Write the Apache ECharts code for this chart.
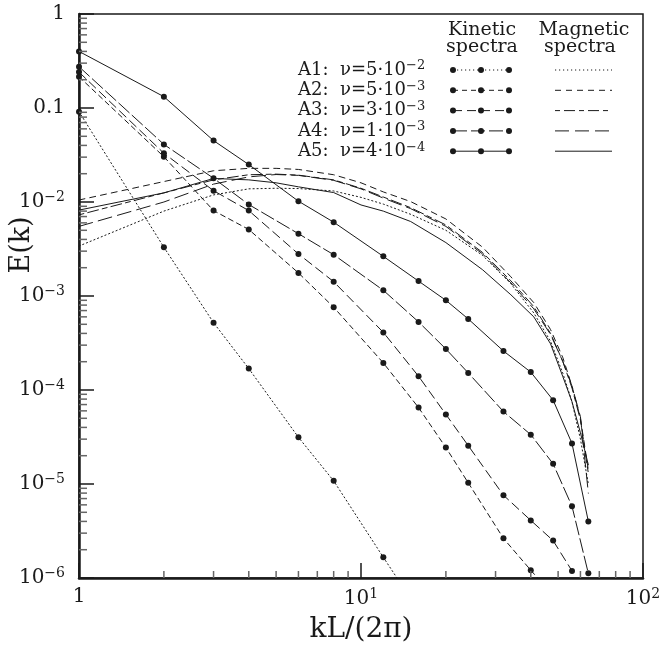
<!DOCTYPE html>
<html>
<head>
<meta charset="utf-8">
<script src="https://cdn.jsdelivr.net/npm/echarts@6/dist/echarts.min.js"></script>
<style>
html,body{margin:0;padding:0;background:#fff;}
#chart{width:662px;height:653px;}
</style>
</head>
<body>
<div id="chart"></div>
<script>
// ---------- data ----------
const kKinetic = [1, 2, 3, 4, 6, 8, 12, 16, 20, 24, 32, 40, 48, 56, 64];
const kinA1 = [0.0914, 0.0033, 5.2e-4, 1.69e-4, 3.14e-5, 1.08e-5, 1.66e-6, 4.5e-7];
const kinA2 = [0.215, 0.0303, 0.0081, 0.0051, 0.00176, 7.6e-4, 1.94e-4, 6.5e-5, 2.44e-5, 1.03e-5, 2.64e-6, 1.21e-6, 6.5e-7];
const kinA3 = [0.241, 0.033, 0.0132, 0.0081, 0.0028, 0.00142, 4.1e-4, 1.40e-4, 5.5e-5, 2.56e-5, 7.6e-6, 4.1e-6, 2.5e-6, 1.19e-6];
const kinA4 = [0.275, 0.041, 0.0179, 0.0094, 0.0046, 0.00275, 1.15e-3, 5.3e-4, 2.73e-4, 1.52e-4, 5.9e-5, 3.35e-5, 1.64e-5, 5.8e-6, 1.12e-6];
const kinA5 = [0.40, 0.132, 0.045, 0.025, 0.0102, 0.0061, 0.00264, 0.00144, 9.0e-4, 5.7e-4, 2.6e-4, 1.55e-4, 7.8e-5, 2.7e-5, 4.0e-6];

const kMagnetic = [1, 2, 3, 4, 5, 6, 8, 10, 12, 15, 20, 27, 34, 41, 47, 52, 56, 60, 64];
const magA1 = [0.0034, 0.0080, 0.0119, 0.0138, 0.0140, 0.0139, 0.0131, 0.0112, 0.0095, 0.0074, 0.0050, 0.0027, 0.00135, 6.6e-4, 3.3e-4, 1.5e-4, 7.5e-5, 3.0e-5, 1.0e-5];
const magA2 = [0.0105, 0.0165, 0.0215, 0.0228, 0.0228, 0.0222, 0.0195, 0.0160, 0.0128, 0.0101, 0.0066, 0.0033, 0.0016, 8.5e-4, 4.4e-4, 2.2e-4, 1.1e-4, 5.0e-5, 1.4e-5];
const magA3 = [0.0073, 0.0125, 0.0172, 0.0195, 0.0198, 0.0193, 0.0172, 0.0140, 0.0113, 0.0087, 0.0057, 0.0029, 0.00145, 7.7e-4, 4.0e-4, 2.0e-4, 1.05e-4, 4.8e-5, 1.3e-5];
const magA4 = [0.0055, 0.0100, 0.0155, 0.0185, 0.0196, 0.0192, 0.0170, 0.0138, 0.0110, 0.0085, 0.0055, 0.0028, 0.00138, 7.3e-4, 3.9e-4, 2.0e-4, 1.1e-4, 5.2e-5, 8.0e-6];
const magA5 = [0.0082, 0.0125, 0.0178, 0.0172, 0.0160, 0.0145, 0.0126, 0.0093, 0.0080, 0.0062, 0.0037, 0.0019, 0.00103, 6.0e-4, 3.1e-4, 1.38e-4, 7.5e-5, 3.5e-5, 1.6e-5];

const runNames = ['A1', 'A2', 'A3', 'A4', 'A5'];
const nuMantissa = ['5', '5', '3', '1', '4'];
const nuExponent = ['\u22122', '\u22123', '\u22123', '\u22123', '\u22124'];

const xMin = 1, xMax = 100, yMin = 1e-6, yMax = 1;
const xMinorTicks = [2, 3, 4, 5, 6, 7, 8, 9, 20, 30, 40, 50, 60, 70, 80, 90];
const yMinorTicks = [];
for (let e = -6; e < 0; e++) for (let m = 2; m <= 9; m++) yMinorTicks.push(m * Math.pow(10, e));

// ---------- styles ----------
const INK = '#1a1a1a';
const FONT = 'DejaVu Serif';
const kinDash = [[1.2, 2.8], [5, 4], [9, 5], [14, 4], 'solid'];
const magDash = [[1.2, 2.8], [6, 5], [5, 4, 11, 4], [14, 6], 'solid'];
const kinData = [kinA1, kinA2, kinA3, kinA4, kinA5];
const magData = [magA1, magA2, magA3, magA4, magA5];

const pair = (ks, vs) => vs.map((v, i) => [ks[i], v]);

const series = [];
for (let i = 0; i < 5; i++) {
  series.push({
    name: runNames[i] + ' kinetic', type: 'line', data: pair(kKinetic, kinData[i]),
    symbol: 'circle', symbolSize: 6, showAllSymbol: true, clip: true,
    itemStyle: { color: INK }, lineStyle: { color: INK, width: 1, type: kinDash[i], cap: 'round' },
    emphasis: { disabled: true }, animation: false
  });
  series.push({
    name: runNames[i] + ' magnetic', type: 'line', data: pair(kMagnetic, magData[i]),
    symbol: 'none', clip: true,
    lineStyle: { color: INK, width: 1, type: magDash[i], cap: 'round' },
    emphasis: { disabled: true }, animation: false
  });
}
// minor ticks drawn through the axis scales
series.push({
  type: 'custom', silent: true, animation: false, z: 10,
  data: xMinorTicks.map(v => [v, yMin]),
  renderItem: function (params, api) {
    const p = api.coord([api.value(0), yMin]);
    return { type: 'line', shape: { x1: p[0], y1: p[1], x2: p[0], y2: p[1] - 7 },
      style: { stroke: '#666', lineWidth: 1.5 } };
  }
});
series.push({
  type: 'custom', silent: true, animation: false, z: 10,
  data: yMinorTicks.map(v => [xMin, v]),
  renderItem: function (params, api) {
    const p = api.coord([xMin, api.value(1)]);
    return { type: 'line', shape: { x1: p[0], y1: p[1], x2: p[0] + 8, y2: p[1] },
      style: { stroke: '#666', lineWidth: 1.5 } };
  }
});

function expOf(v) { return Math.round(Math.log10(v)); }
const supRich = {
  b: { fontSize: 20, fontFamily: FONT, color: INK },
  s: { fontSize: 14, fontFamily: FONT, color: INK, padding: [0, 0, 9, 0] }
};

// ---------- legend and y title (graphic) ----------
const graphic = [];
graphic.push({ type: 'text', x: 22, y: 245, rotation: Math.PI / 2, style: {
  text: 'E(k)', font: '27px "' + FONT + '"', fill: INK, textAlign: 'center', textVerticalAlign: 'middle' } });
const hdrStyle = { font: '19px "' + FONT + '"', fill: INK, textAlign: 'center', textVerticalAlign: 'middle' };
graphic.push({ type: 'text', x: 482, y: 30, style: Object.assign({ text: 'Kinetic' }, hdrStyle) });
graphic.push({ type: 'text', x: 482, y: 47, style: Object.assign({ text: 'spectra' }, hdrStyle) });
graphic.push({ type: 'text', x: 584, y: 30, style: Object.assign({ text: 'Magnetic' }, hdrStyle) });
graphic.push({ type: 'text', x: 580, y: 47, style: Object.assign({ text: 'spectra' }, hdrStyle) });
for (let i = 0; i < 5; i++) {
  const y = 70 + i * 20.3;
  graphic.push({ type: 'text', x: 298, y: y, style: {
    text: '{b|' + runNames[i] + ':  \u03bd=' + nuMantissa[i] + '\u00b710}{s|' + nuExponent[i] + '}',
    textAlign: 'left', textVerticalAlign: 'middle',
    rich: { b: { fontSize: 18, fontFamily: FONT, fill: INK }, s: { fontSize: 13, fontFamily: FONT, fill: INK, padding: [0, 0, 8, 0] } }
  }});
  graphic.push({ type: 'polyline', shape: { points: [[453, y], [509, y]] },
    style: { stroke: INK, lineWidth: 1, lineDash: kinDash[i] === 'solid' ? null : kinDash[i], fill: null } });
  [453, 481, 509].forEach(cx => graphic.push({ type: 'circle', shape: { cx: cx, cy: y, r: 3 }, style: { fill: INK } }));
  graphic.push({ type: 'polyline', shape: { points: [[555, y], [612, y]] },
    style: { stroke: INK, lineWidth: 1, lineDash: magDash[i] === 'solid' ? null : magDash[i], fill: null } });
}

const chart = echarts.init(document.getElementById('chart'), null, { renderer: 'canvas' });
chart.setOption({
  backgroundColor: '#fff',
  animation: false,
  grid: { left: 79, right: 19, top: 14, bottom: 75, containLabel: false, outerBoundsMode: 'none',
    show: true, borderColor: INK, borderWidth: 1.5, backgroundColor: 'transparent' },
  xAxis: {
    type: 'log', logBase: 10, min: xMin, max: xMax,
    axisLine: { show: true, onZero: false, lineStyle: { color: INK, width: 2.5 } },
    axisTick: { show: true, inside: true, length: 15, lineStyle: { color: INK, width: 1.5 } },
    minorTick: { show: false }, splitLine: { show: false },
    axisLabel: { margin: 9, color: INK, fontFamily: FONT, fontSize: 20, rich: supRich,
      formatter: function (v) { const e = expOf(v); return e === 0 ? '{b|1}' : '{b|10}{s|' + e + '}'; } },
    name: 'kL/(2\u03c0)', nameLocation: 'middle', nameGap: 38, nameMoveOverlap: false,
    nameTextStyle: { fontFamily: FONT, fontSize: 28, color: INK }
  },
  yAxis: {
    type: 'log', logBase: 10, min: yMin, max: yMax,
    axisLine: { show: true, onZero: false, lineStyle: { color: INK, width: 2.5 } },
    axisTick: { show: true, inside: true, length: 15, lineStyle: { color: INK, width: 1.5 } },
    minorTick: { show: false }, splitLine: { show: false },
    axisLabel: { margin: 14, color: INK, fontFamily: FONT, fontSize: 20, rich: supRich,
      formatter: function (v) { const e = expOf(v); if (e === 0) return '{b|1}'; if (e === -1) return '{b|0.1}';
        return '{b|10}{s|\u2212' + (-e) + '}'; } }
  },
  series: series,
  graphic: graphic
});
</script>
</body>
</html>
